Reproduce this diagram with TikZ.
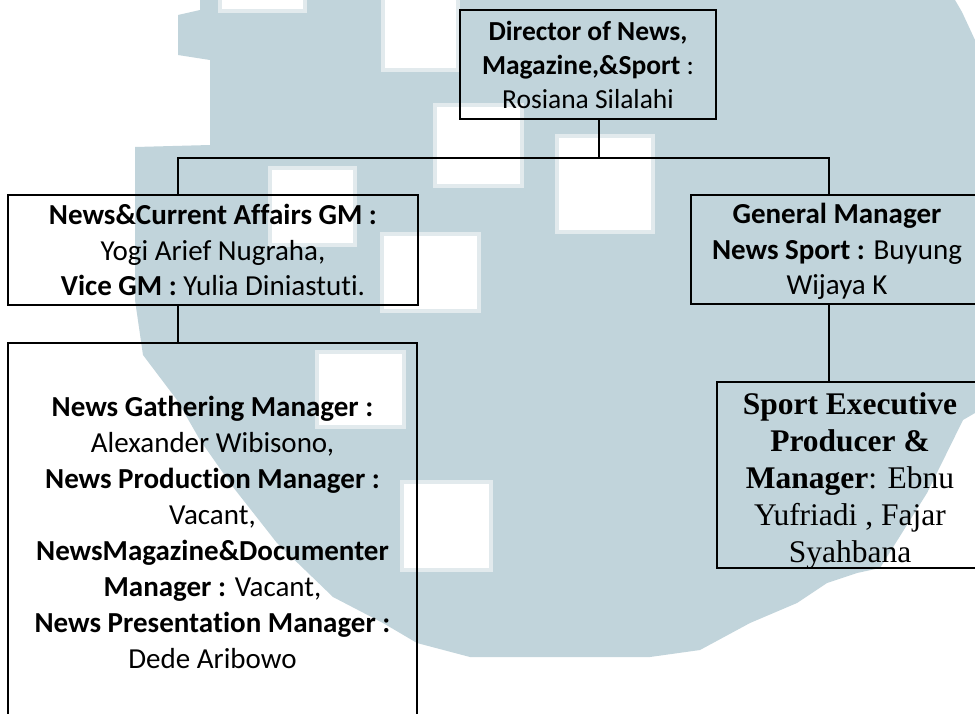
\documentclass[tikz,border=0pt]{standalone}
\usepackage{fontspec}
\setmainfont{Carlito}[Ligatures={NoCommon}]
\newfontfamily\timesf{Liberation Serif}
\definecolor{wm}{RGB}{193,212,219}
\definecolor{wmedge}{RGB}{226,234,237}
\tikzset{
  orgbox/.style={draw=black, line width=2.6pt, align=center, inner sep=0pt},
  conn/.style={draw=black, line width=2pt},
  wsq/.style={fill=white, draw=wmedge, line width=3.5pt},
  calf/.style={font=\fontsize{29}{35.5}\selectfont},
}
\begin{document}
\begin{tikzpicture}[x=1pt,y=-1pt]
\clip (0,0) rectangle (975,713);
\fill[white] (0,0) rectangle (975,713);
% watermark
\fill[wm] (200,0) -- (955,0) -- (962,12) -- (975,40) -- (975,413) -- (963,420)
  -- (927,493) -- (880,568) -- (857,573) -- (827,583) -- (797,603) -- (750,623)
  -- (700,650) -- (650,657) -- (470,657) -- (417,643) -- (383,623) -- (333,597)
  -- (277,543) -- (233,487) -- (200,440) -- (177,400) -- (143,355) -- (135,300)
  -- (135,147) -- (210,145) -- (210,60) -- (178,55) -- (178,15) -- (200,10) -- cycle;
\path[wsq] (220,-10) rectangle (305,11);
\path[wsq] (383,-10) rectangle (458,70);
\path[wsq] (435,105) rectangle (522,186);
\path[wsq] (557,136) rectangle (653,232);
\path[wsq] (270,168) rectangle (355,245);
\path[wsq] (382,234) rectangle (479,311);
\path[wsq] (317,352) rectangle (404,427);
\path[wsq] (402,482) rectangle (491,570);
% boxes
\node[orgbox, minimum width=256pt, minimum height=109pt,
  font=\fontsize{27.5}{34}\selectfont] (dir) at (588,64.5)
  {\textbf{Director of News,}\\ \textbf{Magazine,\&Sport} :\\ Rosiana Silalahi};
\node[orgbox, calf, minimum width=410pt, minimum height=110pt] (gml) at (213,250)
  {\textbf{News\&Current Affairs GM :}\\ Yogi Arief Nugraha,\\ \textbf{Vice GM :} Yulia Diniastuti.};
\node[orgbox, line width=2pt, minimum width=292pt, minimum height=109pt] (gmr) at (837,249.5) {};
\node[calf, align=center, inner sep=0pt] (gmrt) at ([yshift=-2pt]gmr.center)
  {\textbf{General Manager}\\ \textbf{News Sport :} Buyung\\ Wijaya K};
\node[orgbox, minimum width=409pt, minimum height=378pt,
  font=\fontsize{29}{36}\selectfont] (mgr) at (212.5,532)
  {\textbf{News Gathering Manager :}\\ Alexander Wibisono,\\ \textbf{News Production Manager :}\\ Vacant,\\ \textbf{NewsMagazine\&Documenter}\\ \textbf{Manager :} Vacant,\\ \textbf{News Presentation Manager :}\\ Dede Aribowo};
\node[orgbox, line width=2.2pt, minimum width=266pt, minimum height=186pt] (sport) at (850,475) {};
\node[align=center, inner sep=0pt, font=\timesf\fontsize{31.5}{37}\selectfont] (sportt)
  at ([yshift=-6pt]sport.center)
  {\textbf{Sport Executive}\\ \textbf{Producer \&}\\ \textbf{Manager}: Ebnu\\ Yufriadi , Fajar\\ Syahbana};
% connectors
\coordinate (jt) at (599,158);
\coordinate (jl) at (178,158);
\coordinate (jr) at (829,158);
\draw[conn] (dir.south -| jt) -- (jt);
\draw[conn] (gml.north -| jl) -- (jl) -- (jr) -- (gmr.north -| jr);
\draw[conn] (gml.south -| jl) -- (mgr.north -| jl);
\draw[conn] (gmr.south -| jr) -- (sport.north -| jr);
\end{tikzpicture}
\end{document}
